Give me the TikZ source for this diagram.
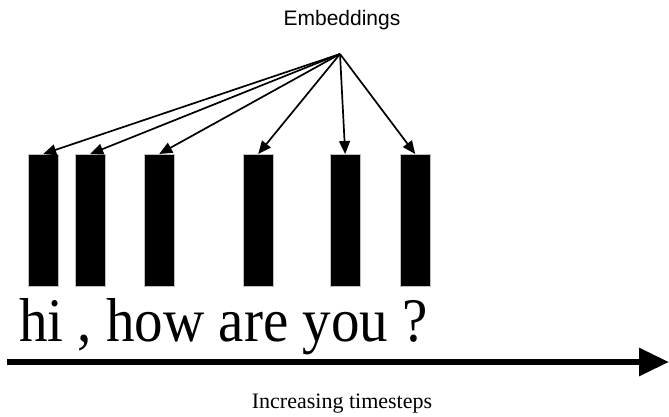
\documentclass[tikz,border=0pt]{standalone}
\usepackage{fontspec}
\setmainfont{Liberation Serif}
\setsansfont{Liberation Sans}
\usetikzlibrary{arrows.meta}

\begin{document}
\begin{tikzpicture}[x=1pt,y=-1pt,
  bar/.style={draw=gray!50,fill=black,line width=0.4pt,inner sep=0pt,
    minimum width=30pt,minimum height=132pt,anchor=north west},
  feed/.style={-{Triangle[length=13pt,width=11pt]},line width=1.7pt}]
\useasboundingbox (0,0) rectangle (669,416);
\node[font=\sffamily\fontsize{21}{24}\selectfont,anchor=base] (emb) at (342,25) {Embeddings};
\coordinate (src) at (340,54);
% one bar per token, fed from the same source
\foreach \x [count=\i] in {28,75,144,243,330,400} {
  \node[bar] (b\i) at (\x,154) {};
  \draw[feed] (src) -- (b\i.north);
}
\node[font=\fontsize{62}{66}\selectfont,anchor=base west,inner sep=0pt,xscale=0.92] (words) at (19,341) {hi , how are you ?};
\coordinate (t0) at (7,362);
\coordinate (t1) at (669,362);
\draw[line width=6pt,-{Triangle[length=30pt,width=27pt]}] (t0) -- (t1);
\node[font=\fontsize{22}{26}\selectfont,anchor=base] (axis) at (342,408) {Increasing timesteps};
\end{tikzpicture}
\end{document}
